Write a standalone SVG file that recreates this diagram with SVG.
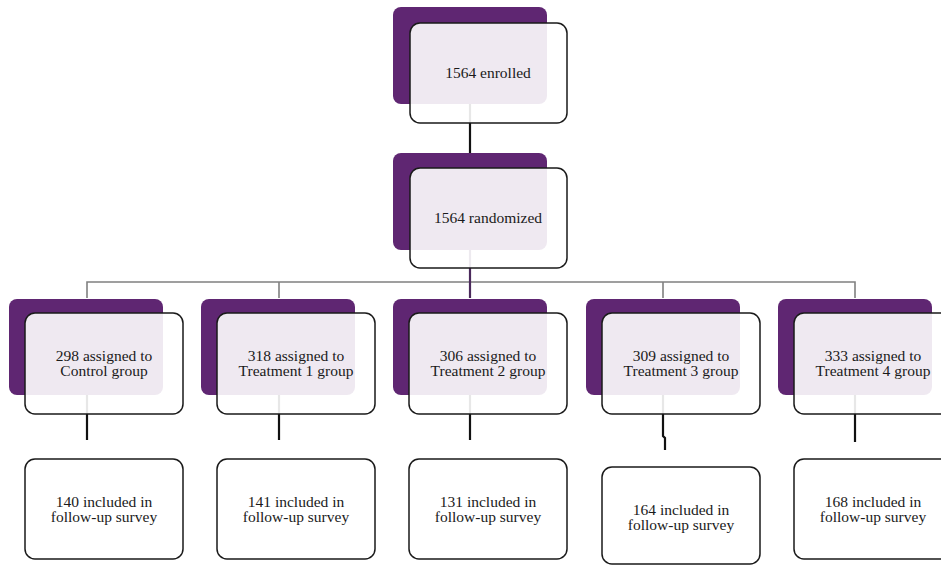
<svg xmlns="http://www.w3.org/2000/svg" width="941" height="565" viewBox="0 0 941 565">
<style>
.bg{fill:#5f2672}
.fr{fill:#fff;fill-opacity:0.9;stroke:#1a1a1a;stroke-width:1.5}
.bx{fill:#fff;stroke:#1a1a1a;stroke-width:1.5}
text{font-family:'Liberation Serif','Times New Roman','DejaVu Serif',serif;font-size:15.5px;fill:#1a1a1a;text-anchor:middle}
.k{fill:none;stroke:#111;stroke-width:2.2}
.g{fill:none;stroke:#808080;stroke-width:1.6}
</style>
<rect width="941" height="565" fill="#fff"/>
<g id="connectors">
<path class="k" d="M470,104 V153"/>
<path class="g" d="M87,298 V282 H855 V298"/>
<path class="g" d="M279,282 V298 M663,282 V298"/>
<path d="M470,250 V298" fill="none" stroke="#4b2a5c" stroke-width="2.2"/>
<path class="k" d="M87,395 V440"/>
<path class="k" d="M279,395 V440"/>
<path class="k" d="M470,395 V440"/>
<path class="k" d="M663,395 V436 L665,438 V450"/>
<path class="k" d="M855,395 V442"/>
</g>
<g id="n-enrolled">
<rect class="bg" x="393" y="7" width="154" height="97" rx="8"/>
<rect class="fr" x="410" y="23" width="157" height="100" rx="10"/>
<text x="488" y="78" font-family="Liberation Serif, serif">1564 enrolled</text>
</g>
<g id="n-randomized">
<rect class="bg" x="393" y="153" width="154" height="97" rx="8"/>
<rect class="fr" x="410" y="168" width="157" height="100" rx="10"/>
<text x="488" y="223">1564 randomized</text>
</g>
<g id="n-control">
<rect class="bg" x="9" y="299" width="154" height="96" rx="8"/>
<rect class="fr" x="25" y="313" width="158" height="101" rx="10"/>
<text x="104" y="361">298 assigned to</text>
<text x="104" y="376">Control group</text>
</g>
<g id="n-t1">
<rect class="bg" x="201" y="299" width="154" height="96" rx="8"/>
<rect class="fr" x="217" y="313" width="158" height="101" rx="10"/>
<text x="296" y="361">318 assigned to</text>
<text x="296" y="376">Treatment 1 group</text>
</g>
<g id="n-t2">
<rect class="bg" x="393" y="299" width="154" height="96" rx="8"/>
<rect class="fr" x="409" y="313" width="158" height="101" rx="10"/>
<text x="488" y="361">306 assigned to</text>
<text x="488" y="376">Treatment 2 group</text>
</g>
<g id="n-t3">
<rect class="bg" x="586" y="299" width="154" height="96" rx="8"/>
<rect class="fr" x="602" y="313" width="158" height="101" rx="10"/>
<text x="681" y="361">309 assigned to</text>
<text x="681" y="376">Treatment 3 group</text>
</g>
<g id="n-t4">
<rect class="bg" x="778" y="299" width="154" height="96" rx="8"/>
<rect class="fr" x="794" y="313" width="158" height="101" rx="10"/>
<text x="873" y="361">333 assigned to</text>
<text x="873" y="376">Treatment 4 group</text>
</g>
<g id="n-f0">
<rect class="bx" x="25" y="459" width="158" height="100" rx="10"/>
<text x="104" y="507">140 included in</text>
<text x="104" y="522">follow-up survey</text>
</g>
<g id="n-f1">
<rect class="bx" x="217" y="459" width="158" height="100" rx="10"/>
<text x="296" y="507">141 included in</text>
<text x="296" y="522">follow-up survey</text>
</g>
<g id="n-f2">
<rect class="bx" x="409" y="459" width="158" height="100" rx="10"/>
<text x="488" y="507">131 included in</text>
<text x="488" y="522">follow-up survey</text>
</g>
<g id="n-f3">
<rect class="bx" x="602" y="467" width="158" height="97" rx="10"/>
<text x="681" y="515">164 included in</text>
<text x="681" y="530">follow-up survey</text>
</g>
<g id="n-f4">
<rect class="bx" x="794" y="459" width="158" height="100" rx="10"/>
<text x="873" y="507">168 included in</text>
<text x="873" y="522">follow-up survey</text>
</g>
</svg>
